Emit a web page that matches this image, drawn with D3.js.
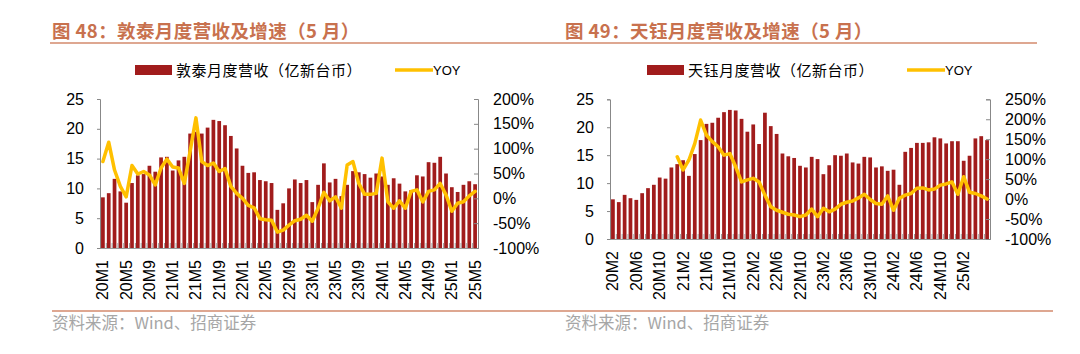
<!DOCTYPE html>
<html lang="zh">
<head>
<meta charset="UTF-8">
<script src="https://cdn.jsdelivr.net/npm/d3@7"></script>
<title>敦泰 / 天钰 月度营收及增速</title>
<style>
  body { margin: 0; background: #fff; }
  svg { display: block; }
  text { font-family: "Liberation Sans", Arial, "Noto Sans CJK SC", sans-serif; }
  .cjk { font-family: "Noto Sans CJK SC", sans-serif; }
</style>
</head>
<body>
<svg id="chart" width="1080" height="354"></svg>
<script>
  // 敦泰 (FocalTech) monthly revenue, 20M1 .. 25M5
  const dtCats = ["20M1","20M2","20M3","20M4","20M5","20M6","20M7","20M8","20M9","20M10","20M11","20M12",
    "21M1","21M2","21M3","21M4","21M5","21M6","21M7","21M8","21M9","21M10","21M11","21M12",
    "22M1","22M2","22M3","22M4","22M5","22M6","22M7","22M8","22M9","22M10","22M11","22M12",
    "23M1","23M2","23M3","23M4","23M5","23M6","23M7","23M8","23M9","23M10","23M11","23M12",
    "24M1","24M2","24M3","24M4","24M5","24M6","24M7","24M8","24M9","24M10","24M11","24M12",
    "25M1","25M2","25M3","25M4","25M5"];
  const dtTickLabels = ["20M1","20M5","20M9","21M1","21M5","21M9","22M1","22M5","22M9",
    "23M1","23M5","23M9","24M1","24M5","24M9","25M1","25M5"];
  const dtRevenue = [8.5, 9.2, 11.6, 9.5, 7.6, 10.9, 12.2, 12.4, 13.8, 12.8, 15.2, 15.3,
    13.0, 14.7, 15.3, 19.2, 19.5, 19.2, 20.2, 21.5, 21.3, 20.6, 18.8, 16.7,
    13.8, 12.6, 12.7, 11.4, 11.2, 10.9, 6.4, 7.5, 10.0, 11.5, 10.9, 11.4,
    7.7, 10.6, 14.2, 11.0, 11.6, 8.7, 10.6, 12.9, 12.7, 12.4, 11.8, 12.5,
    12.0, 10.6, 11.7, 10.8, 9.5, 9.7, 12.2, 12.0, 14.4, 14.3, 15.3, 12.5,
    10.2, 9.4, 10.6, 11.2, 10.7];
  const dtYoy = [74, 113, 57, 24, 3, 66, 49, 54, 47, 27, 61, 79,
    63, 61, 30, 95, 162, 74, 66, 71, 54, 60, 24, 10,
    0, -14, -19, -41, -43, -44, -68, -64, -54, -45, -42, -34,
    -46, -20, 12, -5, 3, -20, 67, 74, 30, 8, 8, 10,
    81, -7, -20, -5, -20, 14, 17, -7, 14, 17, 30, 7,
    -26, -10, -7, 5, 14];

  // 天钰 (Fitipower) monthly revenue, 20M2 onwards
  const tyCats = ["20M2","20M3","20M4","20M5","20M6","20M7","20M8","20M9","20M10","20M11","20M12",
    "21M1","21M2","21M3","21M4","21M5","21M6","21M7","21M8","21M9","21M10","21M11","21M12",
    "22M1","22M2","22M3","22M4","22M5","22M6","22M7","22M8","22M9","22M10","22M11","22M12",
    "23M1","23M2","23M3","23M4","23M5","23M6","23M7","23M8","23M9","23M10","23M11","23M12",
    "24M1","24M2","24M3","24M4","24M5","24M6","24M7","24M8","24M9","24M10","24M11","24M12",
    "25M1","25M2","25M3","25M4","25M5","25M6"];
  const tyTickLabels = ["20M2","20M6","20M10","21M2","21M6","21M10","22M2","22M6","22M10",
    "23M2","23M6","23M10","24M2","24M6","24M10","25M2"];
  const tyRevenue = [7.1, 6.6, 7.9, 7.3, 7.0, 8.2, 9.1, 9.7, 11.0, 10.8, 12.8,
    13.4, 14.1, 11.3, 15.2, 17.7, 20.6, 20.8, 21.7, 22.7, 23.1, 23.0, 21.5,
    19.2, 20.5, 17.0, 22.6, 20.2, 18.8, 15.3, 14.8, 14.5, 13.1, 12.8, 14.7,
    14.3, 11.6, 13.2, 15.0, 14.9, 15.3, 13.7, 13.5, 14.7, 14.6, 12.8, 13.0,
    12.2, 12.4, 9.7, 15.6, 16.3, 17.2, 17.2, 17.3, 18.2, 18.0, 17.1, 17.5,
    17.5, 14.0, 14.9, 18.0, 18.4, 17.7];
  const tyYoy = [null, null, null, null, null, null, null, null, null, null, null,
    106, 73, 98, 139, 198, 160, 144, 131, 110, 114, 81, 43,
    48, 52, 43, 10, -19, -28, -33, -38, -40, -44, -40, -25,
    -44, -23, -32, -25, -13, -8, -5, 3, 12, -1, -11, -13,
    8, -28, 2, 10, 14, 27, 28, 23, 25, 35, 38, 43,
    12, 56, 17, 14, 8, 0];

  const revTicks = [0, 5, 10, 15, 20, 25];
  const dtYoyTicks = [-100, -50, 0, 50, 100, 150, 200];
  const tyYoyTicks = [-100, -50, 0, 50, 100, 150, 200, 250];

  const BAR = "#a11c1c", LINE = "#ffc000", ACCENT = "#c8714e", RULE = "#d38a6c";
  const svg = d3.select("#chart");

  function drawPanel(p) {
    const g = svg.append("g");
    const n = p.cats.length;

    // title + rules
    g.append("text").attr("class", "cjk").attr("x", p.titleX).attr("y", 38)
      .attr("fill", ACCENT).attr("font-size", 18.5).attr("font-weight", 700)
      .attr("letter-spacing", 0.4).text(p.title);
    g.append("line").attr("x1", p.rule[0]).attr("x2", p.rule[1]).attr("y1", 43).attr("y2", 43)
      .attr("stroke", RULE).attr("stroke-width", 1.5);
    g.append("line").attr("x1", p.foot[0]).attr("x2", p.foot[1]).attr("y1", 311).attr("y2", 311)
      .attr("stroke", RULE).attr("stroke-width", 1.5);
    g.append("text").attr("class", "cjk").attr("x", p.titleX).attr("y", 329)
      .attr("fill", "#a6a6a6").attr("font-size", 16.5)
      .text("资料来源：Wind、招商证券");

    // legend
    const lg = g.append("g").attr("transform", `translate(${p.legendX},70)`);
    lg.append("rect").attr("x", 0).attr("y", -5).attr("width", 37).attr("height", 10).attr("fill", BAR);
    lg.append("text").attr("class", "cjk").attr("x", 41).attr("y", 5.5).attr("font-size", 15)
      .attr("letter-spacing", 0.5).text(p.legendName);
    lg.append("line").attr("x1", p.yoyLegendDx).attr("x2", p.yoyLegendDx + 38).attr("y1", 0).attr("y2", 0)
      .attr("stroke", LINE).attr("stroke-width", 3.5);
    lg.append("text").attr("x", p.yoyLegendDx + 38).attr("y", 5).attr("font-size", 13).text("YOY");

    // scales
    const pad = 0.36;
    const x = d3.scaleBand().domain(p.cats).range([p.left, p.right]).paddingInner(pad).paddingOuter(pad / 2);
    const xi = d3.scaleLinear().domain([0, n]).range([p.left, p.right]);
    const y = d3.scaleLinear().domain([0, 25]).range([p.bottom, p.top]);
    const y2 = d3.scaleLinear().domain(d3.extent(p.yoyTicks)).range([p.bottom, p.top]);

    // bars
    g.append("g").selectAll("rect").data(p.rev).join("rect")
      .attr("x", (d, i) => x(p.cats[i]))
      .attr("width", x.bandwidth())
      .attr("y", d => y(d))
      .attr("height", d => y(0) - y(d))
      .attr("fill", BAR);

    // category axis: grey marks between categories
    const xAxis = g.append("g").attr("transform", `translate(0,${p.bottom})`)
      .call(d3.axisBottom(xi).tickValues(d3.range(n + 1)).tickSize(-5).tickFormat(""));
    xAxis.selectAll("line").attr("stroke", "#9a9a9a");
    xAxis.select(".domain").attr("stroke", "#9a9a9a");

    g.append("g").selectAll("text").data(p.tickLabels).join("text")
      .attr("transform", c => `translate(${x(c) + x.bandwidth() / 2 + 5.5},${p.labelY}) rotate(-90)`)
      .attr("text-anchor", "end").attr("font-size", 16).attr("fill", "#000").text(c => c);

    // value axes
    const yl = g.append("g").attr("transform", `translate(${p.left},0)`)
      .call(d3.axisLeft(y).tickValues(revTicks).tickSize(3).tickPadding(13));
    const yr = g.append("g").attr("transform", `translate(${p.right},0)`)
      .call(d3.axisRight(y2).tickValues(p.yoyTicks).tickSize(-4).tickPadding(15).tickFormat(d => d + "%"));
    [yl, yr].forEach(a => {
      a.selectAll("path, line").attr("stroke", "#888");
      a.selectAll("text").attr("font-size", 16).attr("fill", "#000")
        .attr("font-family", "'Liberation Sans', Arial, sans-serif");
    });

    // YOY line
    const line = d3.line()
      .defined(d => d != null)
      .x((d, i) => x(p.cats[i]) + x.bandwidth() / 2)
      .y(d => y2(d));
    g.append("path").datum(p.yoy).attr("d", line)
      .attr("fill", "none").attr("stroke", LINE).attr("stroke-width", 3.5)
      .attr("stroke-linejoin", "round").attr("stroke-linecap", "round");
  }

  drawPanel({
    title: "图 48：敦泰月度营收及增速（5 月）", titleX: 52, rule: [50, 540], foot: [52, 540],
    legendName: "敦泰月度营收（亿新台币）", legendX: 135, yoyLegendDx: 260,
    cats: dtCats, tickLabels: dtTickLabels, rev: dtRevenue, yoy: dtYoy, yoyTicks: dtYoyTicks,
    left: 100, right: 478, top: 99, bottom: 248, labelY: 260
  });
  drawPanel({
    title: "图 49：天钰月度营收及增速（5 月）", titleX: 565, rule: [540, 1037], foot: [540, 1053],
    legendName: "天钰月度营收（亿新台币）", legendX: 647, yoyLegendDx: 260,
    cats: tyCats, tickLabels: tyTickLabels, rev: tyRevenue, yoy: tyYoy, yoyTicks: tyYoyTicks,
    left: 610, right: 990, top: 99.3, bottom: 239, labelY: 251
  });
</script>
</body>
</html>
